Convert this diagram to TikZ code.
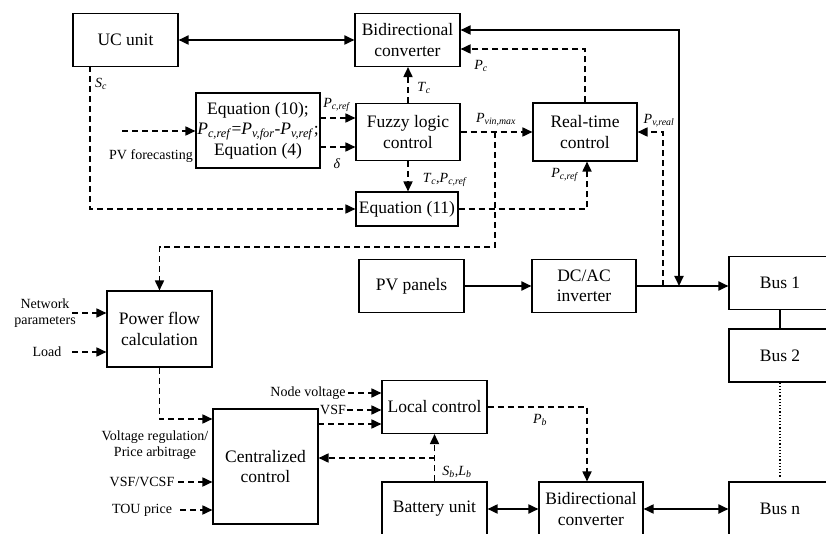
\documentclass[tikz,border=0pt]{standalone}
\usepackage{fontspec}
\setmainfont{Liberation Serif}
\usetikzlibrary{arrows.meta}
\newcommand\Ps[2]{\textit{#1}\textsubscript{\textit{#2}}}
\begin{document}
\begin{tikzpicture}[x=1pt,y=-1pt,
  box/.style={draw, line width=1.1pt, minimum width=105pt, minimum height=53pt, align=center, inner sep=1pt, font=\fontsize{17.5}{20.5}\selectfont},
  lab/.style={inner sep=0pt, align=center, font=\fontsize{14}{16.5}\selectfont},
  ln/.style={line width=1.8pt},
  dsh/.style={line width=1.7pt, dash pattern=on 6pt off 4pt},
  arr/.style={-{Triangle[length=10pt,width=9pt]}},
  barr/.style={{Triangle[length=10pt,width=9pt]}-{Triangle[length=10pt,width=9pt]}}]
\useasboundingbox (0,0) rectangle (826,534);
\clip (0,0) rectangle (826,534);
\fill[white] (0,0) rectangle (826,534);
% boxes
\node[box] (uc) at (125.5,40) {UC unit};
\node[box] (bc1) at (407.5,40) {Bidirectional\\converter};
\node[box, minimum width=124pt, minimum height=75pt] (eq10) at (258,130.5) {Equation (10);\\\Ps{P}{c,ref}=\Ps{P}{v,for}-\Ps{P}{v,ref};\\Equation (4)};
\node[box, minimum width=104pt, minimum height=57pt] (flc) at (408,132) {Fuzzy logic\\control};
\node[box, minimum width=102pt, minimum height=34pt] (eq11) at (407,209) {Equation (11)};
\node[box, minimum width=104pt, minimum height=58pt] (rtc) at (585,132) {Real-time\\control};
\node[box] (pv) at (411.5,286) {PV panels};
\node[box, minimum width=104pt] (inv) at (584,286) {DC/AC\\inverter};
\node[box, minimum width=102pt] (bus1) at (780,283) {Bus 1};
\node[box, minimum width=102pt] (bus2) at (780,355.5) {Bus 2};
\node[box, minimum width=102pt, minimum height=54pt] (busn) at (780,509) {Bus n};
\node[box, minimum height=76pt] (pfc) at (159.5,329) {Power flow\\calculation};
\node[box, minimum height=115pt] (cc) at (265.5,466.5) {Centralized\\control};
\node[box] (lc) at (434.5,407) {Local control};
\node[box, minimum height=54pt] (bat) at (434.5,509) {Battery unit};
\node[box, minimum width=104pt, minimum height=54pt] (bc2) at (591,509) {Bidirectional\\converter};
% coordinates
\coordinate (j1) at (679,286);
\coordinate (j2) at (663,286);
\coordinate (b1) at (495,132);
\coordinate (b2) at (495,247);
\coordinate (pvf) at (122,131);
\coordinate (e1) at (320,118);
\coordinate (e2) at (320,147);
\coordinate (n1) at (72,313);
\coordinate (l1) at (72,352);
\coordinate (v1) at (178,482);
\coordinate (t1) at (180,510);
\coordinate (nv) at (348,393);
\coordinate (vs) at (347,410);
\coordinate (cl) at (318,424);
\coordinate (j3) at (434.5,458);
\coordinate (sc) at (90,66);
% solid connectors
\draw[ln,barr] (uc.east) -- (bc1.west);
\draw[ln,barr] ([yshift=10pt]bc1.east) -| (j1);
\draw[ln,arr] (pv) -- (inv);
\draw[ln,arr] (inv.east) -- (inv.east -| bus1.west);
\draw[ln,barr] (bat) -- (bc2);
\draw[ln,barr] (bc2) -- (busn);
\draw[ln] (bus1.south) -- (bus2.north);
\draw[line width=1.2pt, dotted] (bus2.south) -- ([yshift=4pt]busn.north);
% dashed connectors
\draw[dsh,arr] (rtc.north) |- ([yshift=-9pt]bc1.east);
\draw[dsh,arr] (flc.north) -- (flc.north |- bc1.south);
\draw[dsh,arr] (flc.south) -- (flc.south |- eq11.north);
\draw[dsh,arr] (flc.east) -- (rtc.west);
\draw[dsh,arr] (b1) -- (b2) -| (pfc.north);
\draw[dsh,arr] (eq11.east) -| ([xshift=2pt]rtc.south);
\draw[dsh,arr] (j2) |- (rtc.east);
\draw[dsh,arr] (sc) |- (eq11.west);
\draw[dsh,arr] (pvf) -- (pvf -| eq10.west);
\draw[dsh,arr] (e1) -- (e1 -| flc.west);
\draw[dsh,arr] (e2) -- (e2 -| flc.west);
\draw[dsh,arr] (n1) -- (n1 -| pfc.west);
\draw[dsh,arr] (l1) -- (l1 -| pfc.west);
\draw[dsh,arr] (pfc.south) |- ([yshift=47.5pt]cc.west);
\draw[dsh,arr] (v1) -- (v1 -| cc.west);
\draw[dsh,arr] (t1) -- (t1 -| cc.west);
\draw[dsh,arr] (nv) -- (nv -| lc.west);
\draw[dsh,arr] (vs) -- (vs -| lc.west);
\draw[dsh,arr] (cl) -- (cl -| lc.west);
\draw[dsh,arr] (bat.north) -- (lc.south);
\draw[dsh,arr] (j3) -- (j3 -| cc.east);
\draw[dsh,arr] (lc.east) -| ([xshift=-4pt]bc2.north);
% labels
\node[lab] (lsc) at (101,84) {\Ps{S}{c}};
\node[lab] (lpcr1) at (337,105) {\Ps{P}{c,ref}};
\node[lab] (ldel) at (337,164) {\textit{δ}};
\node[lab] (ltc) at (424,88) {\Ps{T}{c}};
\node[lab] (ltcp) at (445,180) {\Ps{T}{c},\Ps{P}{c,ref}};
\node[lab] (lpc) at (481,66) {\Ps{P}{c}};
\node[lab] (lpvin) at (496,120) {\Ps{P}{vin,max}};
\node[lab] (lpvr) at (659,121) {\Ps{P}{v,real}};
\node[lab] (lpcr2) at (565,175) {\Ps{P}{c,ref}};
\node[lab] (lpvf) at (151,156) {PV forecasting};
\node[lab] (lnet) at (45,313) {Network\\parameters};
\node[lab] (lload) at (47,352) {Load};
\node[lab] (lvr) at (155,445) {Voltage regulation/\\Price arbitrage};
\node[lab] (lvsf2) at (142,482) {VSF/VCSF};
\node[lab] (ltou) at (142,510) {TOU price};
\node[lab] (lnv) at (308,393) {Node voltage};
\node[lab] (lvsf) at (333,410) {VSF};
\node[lab] (lsb) at (457,472) {\Ps{S}{b},\Ps{L}{b}};
\node[lab] (lpb) at (540,420) {\Ps{P}{b}};
\end{tikzpicture}
\end{document}
